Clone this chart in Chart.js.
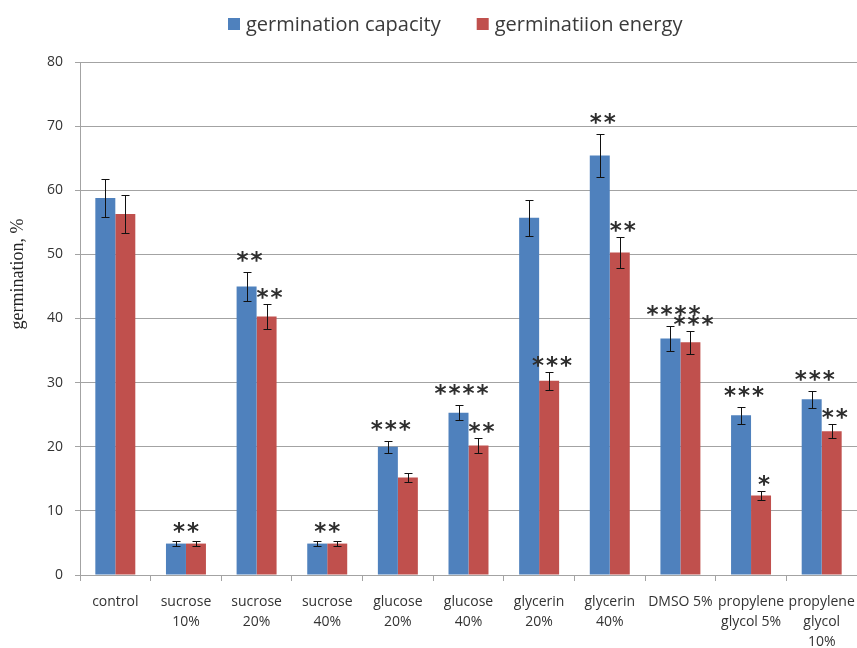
<!DOCTYPE html>
<html>
<head>
<meta charset="utf-8">
<script src="https://cdn.jsdelivr.net/npm/chart.js@4/dist/chart.umd.min.js"></script>
<style>
  html, body { margin: 0; padding: 0; background: #fff; }
  canvas { display: block; }
</style>
</head>
<body>
<canvas id="germChart" width="857" height="648"></canvas>
<script>
const categories = [
  ['control'], ['sucrose', '10%'], ['sucrose', '20%'], ['sucrose', '40%'],
  ['glucose', '20%'], ['glucose', '40%'], ['glycerin', '20%'], ['glycerin', '40%'],
  ['DMSO 5%'], ['propylene', 'glycol 5%'], ['propylene', 'glycol', '10%']
];
const capacity    = [58.8, 4.9, 45.0, 4.9, 20.0, 25.3, 55.7, 65.4, 36.9, 24.9, 27.4];
const capacityErr = [2.9, 0.35, 2.3, 0.35, 0.9, 1.2, 2.8, 3.3, 1.9, 1.3, 1.3];
const energy      = [56.3, 4.9, 40.3, 4.9, 15.2, 20.2, 30.3, 50.3, 36.3, 12.4, 22.4];
const energyErr   = [2.9, 0.35, 2.0, 0.35, 0.7, 1.1, 1.4, 2.4, 1.8, 0.7, 1.1];
// significance marks: per bar, and a few centred over both bars of a group
const capacityStars = ['', '', '**', '', '***', '****', '', '**', '****', '***', '***'];
const energyStars   = ['', '', '**', '', '', '**', '***', '**', '***', '*', '**'];
const pairStars     = ['', '**', '', '**', '', '', '', '', '', '', ''];
const yTicks = [0, 10, 20, 30, 40, 50, 60, 70, 80];

const BLUE = '#4F81BD';
const RED = '#C0504D';
const GRID = '#a3a3a3';

function drawStars(ctx, text, cx, cy) {
  if (!text) return;
  ctx.font = 'bold 23px "DejaVu Sans"';
  ctx.fillStyle = '#2e2e2e';
  ctx.textAlign = 'center';
  ctx.textBaseline = 'alphabetic';
  const m = ctx.measureText('*');
  const yb = cy + (m.actualBoundingBoxAscent - m.actualBoundingBoxDescent) / 2;
  const step = 14;
  const x0 = cx - (text.length - 1) * step / 2;
  for (let i = 0; i < text.length; i++) ctx.fillText('*', x0 + i * step, yb);
}

const extras = {
  id: 'extras',
  afterDatasetsDraw(chart) {
    const ctx = chart.ctx;
    const y = chart.scales.y;
    const errs = [capacityErr, energyErr];
    const stars = [capacityStars, energyStars];
    const gaps = [16, 11];
    const tops = [[], []];

    // error bars
    ctx.save();
    ctx.strokeStyle = '#111';
    ctx.lineWidth = 1;
    chart.data.datasets.forEach((ds, d) => {
      chart.getDatasetMeta(d).data.forEach((bar, i) => {
        const v = ds.data[i], e = errs[d][i];
        const yt = Math.round(y.getPixelForValue(v + e)) + 0.5;
        const yb = Math.round(y.getPixelForValue(v - e)) + 0.5;
        const x = Math.round(bar.x) + 0.5;
        tops[d][i] = yt;
        ctx.beginPath();
        ctx.moveTo(x, yt); ctx.lineTo(x, yb);
        ctx.moveTo(x - 4, yt); ctx.lineTo(x + 4, yt);
        ctx.moveTo(x - 4, yb); ctx.lineTo(x + 4, yb);
        ctx.stroke();
      });
    });

    // asterisks
    chart.data.datasets.forEach((ds, d) => {
      chart.getDatasetMeta(d).data.forEach((bar, i) => {
        drawStars(ctx, stars[d][i], bar.x + 3, tops[d][i] - gaps[d]);
      });
    });
    const b0 = chart.getDatasetMeta(0).data, b1 = chart.getDatasetMeta(1).data;
    pairStars.forEach((s, i) => {
      drawStars(ctx, s, (b0[i].x + b1[i].x) / 2, Math.min(tops[0][i], tops[1][i]) - 14);
    });

    // y axis title
    ctx.save();
    ctx.translate(18, 274);
    ctx.rotate(-Math.PI / 2);
    ctx.font = '18px "Liberation Serif"';
    ctx.fillStyle = '#222';
    ctx.textAlign = 'center';
    ctx.textBaseline = 'middle';
    ctx.fillText('germination, %', 0, 0);
    ctx.restore();

    // legend
    ctx.font = '20px "Open Sans"';
    ctx.textAlign = 'left';
    ctx.textBaseline = 'middle';
    let lx = 228;
    chart.data.datasets.forEach(ds => {
      ctx.fillStyle = ds.backgroundColor;
      ctx.fillRect(lx, 18, 12, 12);
      ctx.fillStyle = '#3a3a3a';
      ctx.fillText(ds.label, lx + 18, 25);
      lx += 18 + ctx.measureText(ds.label).width + 36;
    });
    ctx.restore();
  }
};

new Chart(document.getElementById('germChart'), {
  type: 'bar',
  data: {
    labels: categories,
    datasets: [
      { label: 'germination capacity', data: capacity, backgroundColor: BLUE },
      { label: 'germinatiion energy', data: energy, backgroundColor: RED }
    ]
  },
  options: {
    responsive: false,
    animation: false,
    categoryPercentage: 0.566,
    barPercentage: 1.0,
    layout: { padding: { top: 62, left: 0, right: 0, bottom: 0 } },
    plugins: {
      legend: { display: false },
      tooltip: { enabled: false }
    },
    scales: {
      x: {
        grid: { offset: true, drawOnChartArea: false, tickLength: 6, color: GRID },
        border: { color: GRID },
        ticks: {
          font: { family: 'Open Sans', size: 14, lineHeight: 1.42 },
          color: '#333',
          padding: 11,
          maxRotation: 0,
          autoSkip: false
        },
        afterFit: s => {
          s.height = 73;
          s.paddingLeft = 0;
          s.paddingRight = 0;
        }
      },
      y: {
        min: 0,
        max: 80,
        afterBuildTicks: s => { s.ticks = yTicks.map(v => ({ value: v })); },
        grid: { color: GRID, tickLength: 5 },
        border: { color: GRID },
        ticks: { font: { family: 'Open Sans', size: 14 }, color: '#333', padding: 12 },
        afterFit: s => { s.width = 80; }
      }
    }
  },
  plugins: [extras]
});
</script>
</body>
</html>
